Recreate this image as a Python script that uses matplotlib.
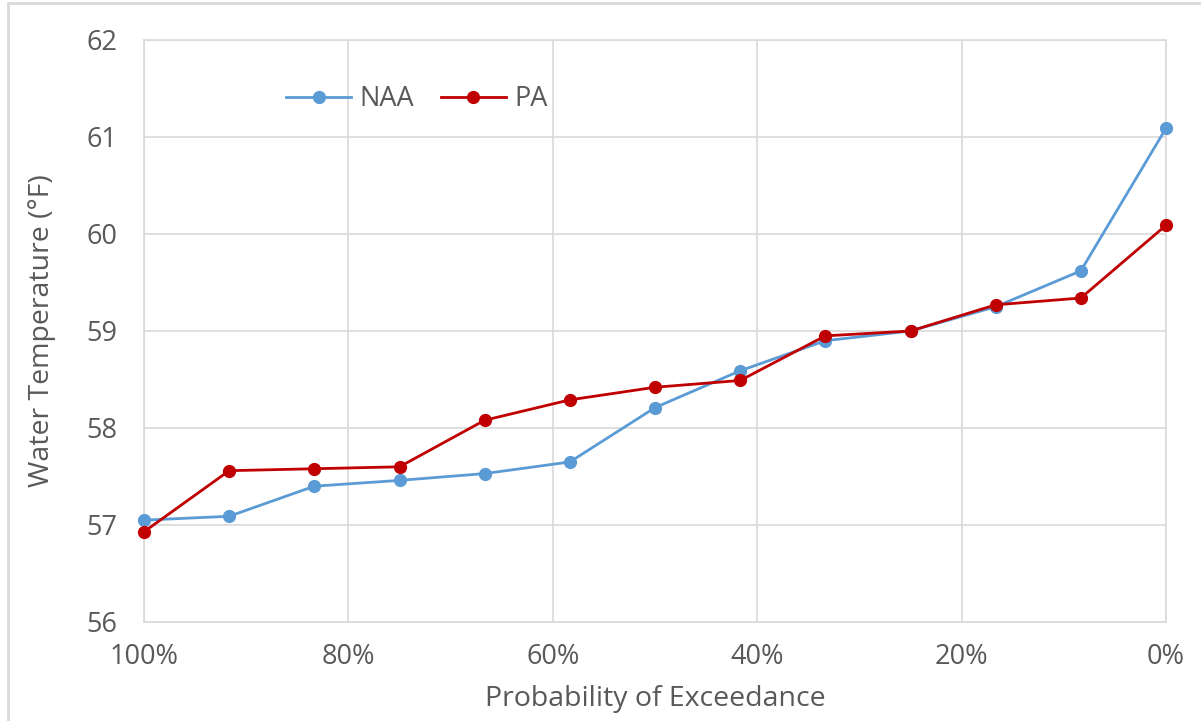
import matplotlib
matplotlib.use("Agg")
import matplotlib.pyplot as plt
from matplotlib.ticker import FuncFormatter
from matplotlib.patches import Rectangle

exceedance = [1.0, 11/12, 10/12, 9/12, 8/12, 7/12, 6/12, 5/12, 4/12, 3/12, 2/12, 1/12, 0.0]
naa = [57.05, 57.09, 57.40, 57.46, 57.53, 57.65, 58.21, 58.59, 58.90, 59.00, 59.25, 59.62, 61.09]
pa = [56.93, 57.56, 57.58, 57.60, 58.08, 58.29, 58.42, 58.49, 58.95, 59.00, 59.27, 59.34, 60.09]
series_names = ["NAA", "PA"]
y_ticks = [56, 57, 58, 59, 60, 61, 62]
x_ticks = [1.0, 0.8, 0.6, 0.4, 0.2, 0.0]

plt.rcParams['font.family'] = ['Open Sans', 'DejaVu Sans']

W, H = 1201, 721
fig = plt.figure(figsize=(W/100, H/100), dpi=100)
ax = fig.add_axes([144/W, (H-622)/H, 1022/W, 582/H])

# outer chart border
fig.patches.append(Rectangle((8/W, -0.05), 1.1, (H-3)/H + 0.05, transform=fig.transFigure,
                             fill=False, edgecolor='#d9d9d9', linewidth=2.0))

blue = '#5b9bd5'
red = '#c00000'
ax.plot(exceedance, naa, color=blue, lw=2.0, marker='o', ms=8.5, label=series_names[0], zorder=3, clip_on=False)
ax.plot(exceedance, pa, color=red, lw=2.0, marker='o', ms=8.5, label=series_names[1], zorder=4, clip_on=False)

ax.set_xlim(1.0, 0.0)
ax.set_ylim(56, 62)
ax.set_yticks(y_ticks)
ax.set_xticks(x_ticks)
ax.xaxis.set_major_formatter(FuncFormatter(lambda v, p: f"{round(v*100)}%"))
ax.grid(True, color='#d9d9d9', lw=1.2)
ax.set_axisbelow(True)
for s in ax.spines.values():
    s.set_color('#d9d9d9')
    s.set_linewidth(1.2)
ax.tick_params(length=0, labelsize=19.5, colors='#595959')
ax.tick_params(axis='y', pad=19)
ax.tick_params(axis='x', pad=15)

ax.set_xlabel("Probability of Exceedance", fontsize=20.5, color='#595959', labelpad=10)
ax.set_ylabel("Water Temperature (°F)", fontsize=20.5, color='#595959', labelpad=22)

leg = ax.legend(loc='upper left', bbox_to_anchor=(142/1022, 1-45/582), ncol=2, frameon=False,
                fontsize=19.5, labelcolor='#595959', handlelength=2.4, columnspacing=1.0,
                handletextpad=0.3, borderaxespad=0, borderpad=0)

fig.savefig("out.png", dpi=100)
